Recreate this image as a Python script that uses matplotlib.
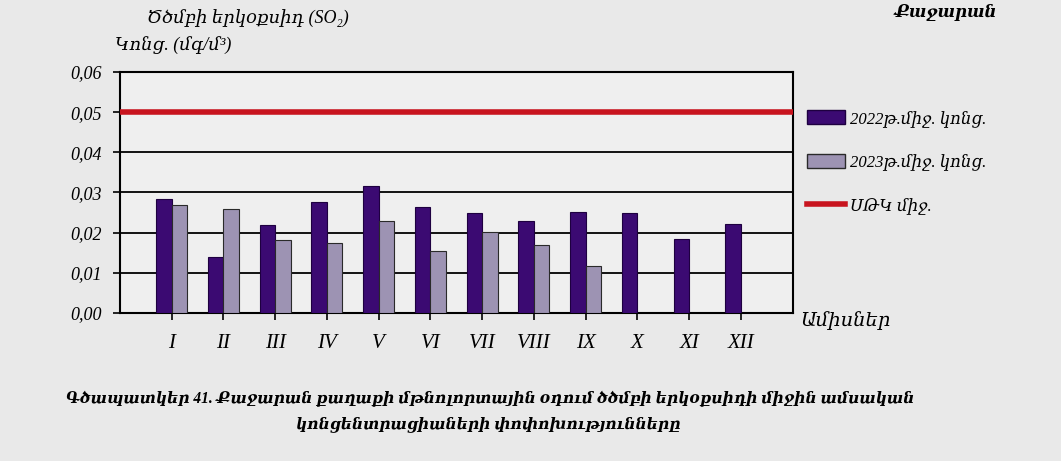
import matplotlib
matplotlib.use("Agg")
import matplotlib.pyplot as plt
from matplotlib.patches import Patch
from matplotlib.lines import Line2D
import numpy as np

months = ["I", "II", "III", "IV", "V", "VI", "VII", "VIII", "IX", "X", "XI", "XII"]
conc_2022 = [0.0284, 0.0139, 0.0220, 0.0277, 0.0316, 0.0265, 0.0250, 0.0230, 0.0252, 0.0250, 0.0185, 0.0222]
conc_2023 = [0.0270, 0.0259, 0.0182, 0.0174, 0.0228, 0.0154, 0.0201, 0.0170, 0.0118, np.nan, np.nan, np.nan]
limit_value = 0.05
y_ticks = [0.00, 0.01, 0.02, 0.03, 0.04, 0.05, 0.06]
y_ticklabels = ["0,00", "0,01", "0,02", "0,03", "0,04", "0,05", "0,06"]

label_2022 = "2022թ.միջ. կոնց."
label_2023 = "2023թ.միջ. կոնց."
label_limit = "ՍԹԿ միջ."
y_title1 = "Ծծմբի երկօքսիդ (SO₂)"
y_title2 = "Կոնց. (մգ/մ³)"
x_title = "Ամիսներ"
city = "Քաջարան"
caption1 = "Գծապատկեր 41. Քաջարան քաղաքի մթնոլորտային օդում ծծմբի երկօքսիդի միջին ամսական"
caption2 = "կոնցենտրացիաների փոփոխությունները"

serif = ["Liberation Serif", "DejaVu Serif", "DejaVu Sans"]
plt.rcParams["font.family"] = serif

bg = "#e9e9e9"
c22 = "#3b0a72"
c23 = "#9d93b3"
cred = "#c8141e"

fig = plt.figure(figsize=(10.61, 4.61), dpi=100, facecolor=bg)
ax = fig.add_axes([0.113, 0.321, 0.634, 0.523])
ax.set_facecolor("#efefef")

x = np.arange(len(months))
w = 0.3
ax.bar(x - w / 2, conc_2022, width=w, color=c22, edgecolor="#1e0040", linewidth=0.8, zorder=3)
ax.bar(x + w / 2, conc_2023, width=w, color=c23, edgecolor="#2a2a2a", linewidth=0.8, zorder=3)
ax.axhline(limit_value, color=cred, linewidth=4, zorder=4)

ax.set_xlim(-1, 12)
ax.set_ylim(0, 0.06)
ax.set_yticks(y_ticks)
ax.set_yticklabels(y_ticklabels, fontsize=13, style="italic")
ax.set_xticks(x)
ax.set_xticklabels(months, fontsize=15, style="italic")
ax.tick_params(axis="y", length=5, width=1.2, direction="out", pad=8)
ax.tick_params(axis="x", length=5, width=1.2, direction="out", pad=10)
ax.yaxis.grid(True, color="black", linewidth=1.3, zorder=1)
ax.set_axisbelow(True)
for s in ax.spines.values():
    s.set_linewidth(1.5)
    s.set_color("black")

handles = [
    Patch(facecolor=c22, edgecolor="#1e0040", label=label_2022),
    Patch(facecolor=c23, edgecolor="#2a2a2a", label=label_2023),
    Line2D([0], [0], color=cred, linewidth=4, label=label_limit),
]
fig.legend(handles=handles, loc="upper left", bbox_to_anchor=(0.746, 0.794),
           frameon=False, prop={"family": serif, "style": "italic", "size": 12},
           handlelength=2.3, handleheight=0.9, labelspacing=1.6, handletextpad=0.3)

fig.text(0.234, 0.958, y_title1, fontsize=13, style="italic", ha="center", va="center")
fig.text(0.108, 0.903, y_title2, fontsize=13, style="italic", ha="left", va="center")
fig.text(0.754, 0.305, x_title, fontsize=14, style="italic", ha="left", va="center")
fig.text(0.892, 0.972, city, fontsize=12, weight="bold", style="italic", ha="center", va="center")
fig.text(0.462, 0.133, caption1, fontsize=11.2, weight="bold", style="italic", ha="center", va="center")
fig.text(0.460, 0.080, caption2, fontsize=11.2, weight="bold", style="italic", ha="center", va="center")

fig.savefig("out.png", dpi=100, facecolor=bg)
